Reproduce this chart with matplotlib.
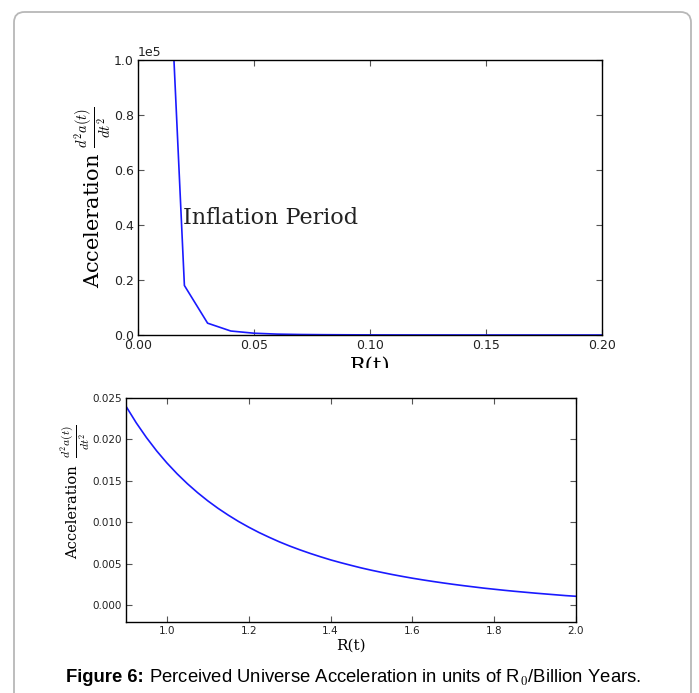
import matplotlib
matplotlib.use('Agg')

import matplotlib.pyplot as plt
import matplotlib.patches as mpatches
from matplotlib.transforms import Bbox

# ---- data ----
r_early = [0.01, 0.02, 0.03, 0.04, 0.05, 0.06, 0.07, 0.08, 0.09, 0.10,
           0.11, 0.12, 0.13, 0.14, 0.15, 0.16, 0.17, 0.18, 0.19, 0.20]
acc_early = [200000, 18000, 4300, 1450, 650, 320, 180, 110, 70, 45,
             30, 22, 16, 12, 9, 7, 5.5, 4.5, 3.5, 3]

r_late = [0.900, 0.925, 0.950, 0.975, 1.000, 1.025, 1.050, 1.075, 1.100, 1.125,
          1.150, 1.175, 1.200, 1.225, 1.250, 1.275, 1.300, 1.325, 1.350, 1.375,
          1.400, 1.425, 1.450, 1.475, 1.500, 1.525, 1.550, 1.575, 1.600, 1.625,
          1.650, 1.675, 1.700, 1.725, 1.750, 1.775, 1.800, 1.825, 1.850, 1.875,
          1.900, 1.925, 1.950, 1.975, 2.000]
acc_late = [0.02400, 0.02201, 0.02023, 0.01862, 0.01717, 0.01586, 0.01467, 0.01359,
            0.01260, 0.01170, 0.01088, 0.01012, 0.00943, 0.00879, 0.00821, 0.00766,
            0.00716, 0.00670, 0.00627, 0.00587, 0.00549, 0.00515, 0.00483, 0.00452,
            0.00424, 0.00398, 0.00373, 0.00350, 0.00328, 0.00308, 0.00289, 0.00271,
            0.00254, 0.00238, 0.00223, 0.00208, 0.00195, 0.00182, 0.00170, 0.00159,
            0.00148, 0.00138, 0.00128, 0.00118, 0.00110]

top_xticks = [0.00, 0.05, 0.10, 0.15, 0.20]
top_yticks = [0, 20000, 40000, 60000, 80000, 100000]
bot_xticks = [1.0, 1.2, 1.4, 1.6, 1.8, 2.0]
bot_yticks = [0.000, 0.005, 0.010, 0.015, 0.020, 0.025]

ylabel_word = 'Acceleration'
ylabel_frac = r'$\frac{d^2a(t)}{dt^2}$'
caption_bold = 'Figure 6:'
caption_rest = r' Perceived Universe Acceleration in units of R$_0$/Billion Years.'

plt.rcParams['mathtext.fontset'] = 'cm'

W, H = 699, 693
fig = plt.figure(figsize=(W / 100, H / 100), dpi=100)

# rounded frame around the whole figure
frame = mpatches.FancyBboxPatch((14 / W, -0.05), (691 - 14) / W, (H - 12) / H + 0.05,
                                boxstyle='round,pad=0,rounding_size=0.015',
                                transform=fig.transFigure, fill=False,
                                edgecolor='#b8b8b8', linewidth=1.3)
fig.patches.append(frame)


def style_axes(ax, size):
    ax.tick_params(direction='in', top=True, right=True, length=4, width=0.8,
                   labelsize=size, color='#555555', labelcolor='#222222', pad=3)
    for s in ax.spines.values():
        s.set_linewidth(1.0)


# ---- top panel: early (inflation) period ----
ax1 = fig.add_axes([138 / W, 1 - 335 / H, (602 - 138) / W, (335 - 60) / H])
ax1.plot(r_early, acc_early, color='#1a1aff', linewidth=1.2)
ax1.set_xlim(0, 0.2)
ax1.set_ylim(0, 100000)
ax1.set_xticks(top_xticks)
ax1.set_yticks(top_yticks)
ax1.ticklabel_format(style='sci', axis='y', scilimits=(0, 0))
ax1.yaxis.get_offset_text().set_fontsize(9)
style_axes(ax1, 9)
ax1.set_ylabel(ylabel_word + ' ' + ylabel_frac, family='DejaVu Serif',
               fontsize=15, labelpad=0)
ax1.text(0.0195, 42500, 'Inflation Period', family='DejaVu Serif', fontsize=16,
         va='center', ha='left', color='#222222')

# x label of the top panel is cut off in the original
t = fig.text((138 + 602) / 2 / W, 1 - 366 / H, 'R(t)', family='DejaVu Serif',
             fontsize=15, ha='center', va='center')
t.set_clip_box(Bbox.from_extents(0, H - 368, W, H))
t.set_clip_on(True)

# ---- bottom panel: perceived acceleration ----
ax2 = fig.add_axes([126 / W, 1 - 622 / H, (576 - 126) / W, (622 - 398) / H])
ax2.plot(r_late, acc_late, color='#1a1aff', linewidth=1.2)
ax2.set_xlim(0.9, 2.0)
ax2.set_ylim(-0.002, 0.025)
ax2.set_xticks(bot_xticks)
ax2.set_yticks(bot_yticks)
style_axes(ax2, 7.5)
ax2.set_xlabel('R(t)', family='DejaVu Serif', fontsize=11, labelpad=2)
# word and fraction of the lower y label have different sizes in the original
fig.text(73 / W, 1 - 512 / H, ylabel_word, family='DejaVu Serif', fontsize=10.5,
         rotation=90, ha='center', va='center')
fig.text(75 / W, 1 - 441 / H, ylabel_frac, family='DejaVu Serif', fontsize=12,
         rotation=90, ha='center', va='center')

# ---- caption ----
cap_y = 1 - 678 / H
cb = fig.text(66 / W, cap_y, caption_bold, family='Liberation Sans',
              fontsize=13.3, fontweight='bold', ha='left', va='center')
fig.canvas.draw()
bb = cb.get_window_extent()
fig.text(bb.x1 / W, cap_y, caption_rest, family='Liberation Sans',
         fontsize=13.3, ha='left', va='center')

fig.savefig('out.png', dpi=100)
